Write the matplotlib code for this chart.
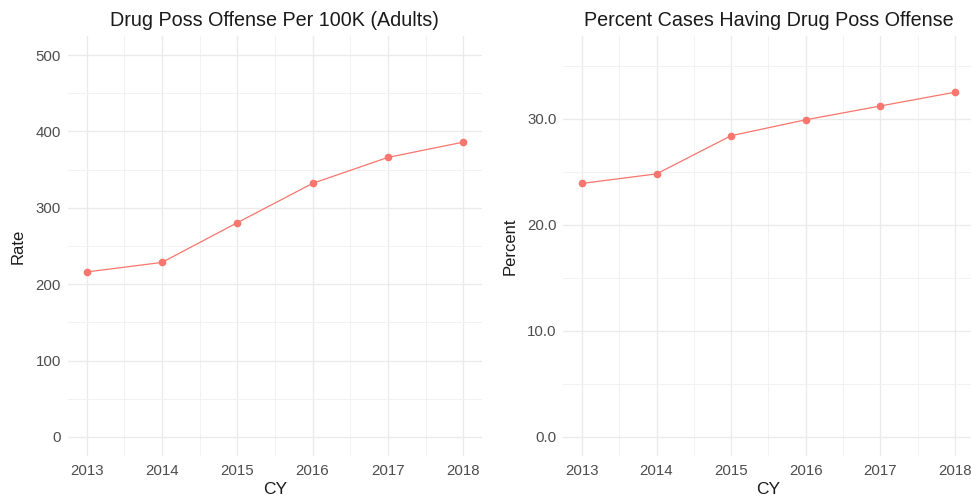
import matplotlib
matplotlib.use("Agg")
import matplotlib.pyplot as plt
from matplotlib.ticker import MultipleLocator, FormatStrFormatter

plt.rcParams['font.family'] = ['Liberation Sans', 'DejaVu Sans']

years = [2013, 2014, 2015, 2016, 2017, 2018]
rate = [216, 228.5, 280.5, 332, 366, 386]
percent = [23.9, 24.8, 28.4, 29.9, 31.2, 32.5]

titles = ["Drug Poss Offense Per 100K (Adults)", "Percent Cases Having Drug Poss Offense"]
ylabels = ["Rate", "Percent"]
xlabel = "CY"

line_color = "#F8766D"
W, H = 971, 496
fig = plt.figure(figsize=(W / 100, H / 100), dpi=100)

def px_axes(x0, x1, y0, y1):
    return fig.add_axes([x0 / W, 1 - y1 / H, (x1 - x0) / W, (y1 - y0) / H])

ax1 = px_axes(67.8, 482, 36, 456)
ax2 = px_axes(563.3, 973.6, 36, 456)

def style(ax, title, ylabel, ylim, major, minor, fmt):
    ax.set_xlim(2012.75, 2018.25)
    ax.set_ylim(*ylim)
    ax.set_xticks(years)
    ax.set_xticks([y + 0.5 for y in years[:-1]], minor=True)
    ax.yaxis.set_major_locator(MultipleLocator(major))
    ax.yaxis.set_minor_locator(MultipleLocator(minor))
    ax.yaxis.set_major_formatter(FormatStrFormatter(fmt))
    for s in ax.spines.values():
        s.set_visible(False)
    ax.grid(which='major', color='#ebebeb', linewidth=1.0)
    ax.grid(which='minor', color='#f2f2f2', linewidth=0.7)
    ax.set_axisbelow(True)
    ax.tick_params(which='both', length=0)
    ax.tick_params(axis='both', labelsize=10.8, labelcolor='#4d4d4d', pad=5)
    ax.tick_params(axis='x', pad=5.5)
    ax.set_title(title, fontsize=14.2, color='#1a1a1a', pad=7)
    ax.set_xlabel(xlabel, fontsize=12.5, color='#1a1a1a', labelpad=3)
    ax.set_ylabel(ylabel, fontsize=12, color='#1a1a1a', labelpad=7)

ax1.plot(years, rate, color=line_color, linewidth=0.9, marker='o', markersize=4.5)
style(ax1, titles[0], ylabels[0], (-25, 525), 100, 50, '%d')

ax2.plot(years, percent, color=line_color, linewidth=0.9, marker='o', markersize=4.5)
style(ax2, titles[1], ylabels[1], (-1.8, 37.8), 10, 5, '%.1f')
ax2.set_yticks([0, 10, 20, 30])

fig.savefig("out.png", dpi=100)
